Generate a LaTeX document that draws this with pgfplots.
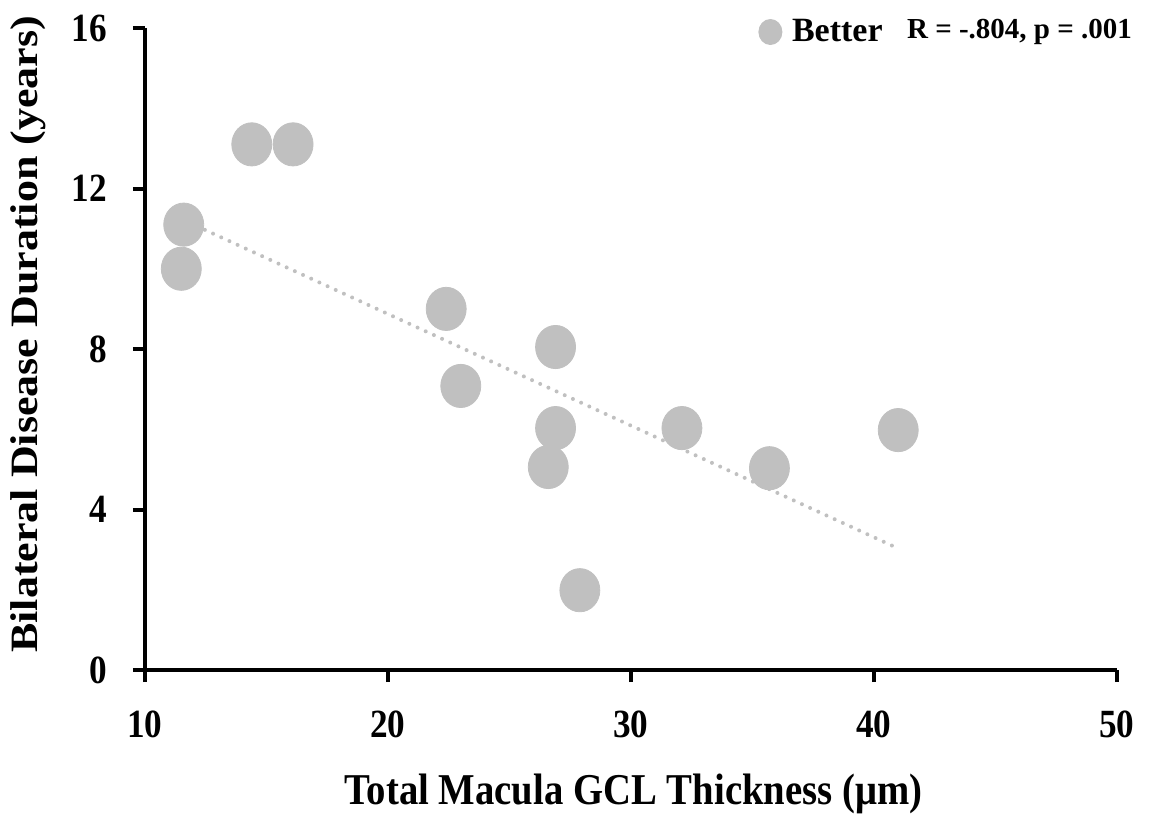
\documentclass[border=0pt]{standalone}
\usepackage{graphicx}
\usepackage{pgfplots}
\pgfplotsset{compat=1.18}
\usepackage{fontspec}
\setmainfont{Liberation Serif}
\definecolor{ptgray}{HTML}{C0C0C0}
\begin{document}
\begin{tikzpicture}
\begin{axis}[
  scale only axis,
  width=486pt, height=321pt,
  xmin=10, xmax=50, ymin=0, ymax=16,
  xtick={10,20,30,40,50}, ytick={0,4,8,12,16},
  axis lines=left,
  axis line style={line width=2pt, -},
  tick style={line width=2pt, black},
  tick align=outside,
  major tick length=6pt,
  /pgf/number format/assume math mode=true,
  ticklabel style={font=\bfseries\fontsize{20}{24}\selectfont},
  xticklabel={\scalebox{0.88}[1]{\pgfmathprintnumber{\tick}}},
  yticklabel={\scalebox{0.88}[1]{\pgfmathprintnumber{\tick}}},
  xticklabel style={yshift=-11pt},
  yticklabel style={xshift=-9.5pt},
  xlabel={\scalebox{0.88}[1]{Total Macula GCL Thickness (μm)}},
  ylabel={\scalebox{1}[0.88]{Bilateral Disease Duration (years)}},
  label style={font=\bfseries\fontsize{22}{26}\selectfont},
  xlabel style={at={(axis description cs:0.5026,-0.210)}, anchor=base},
  ylabel style={at={(axis description cs:-0.120,0.523)}, anchor=center},
  clip=false,
  legend style={draw=none, fill=none, at={(axis cs:35.23,15.9)}, anchor=west,
    font=\bfseries\fontsize{17}{20}\selectfont, inner sep=0pt,
    legend cell align=left},
  legend image code/.code={\fill[ptgray, draw=none] (6pt,0) ellipse [x radius=6pt, y radius=6.5pt]; \path[draw=none, fill=none] (0pt,0) -- (14.8pt,0);},
]
\addplot[only marks, mark=*, mark size=10pt,
  mark options={fill=ptgray, draw=ptgray, yscale=1.08}]
coordinates {
(11.6,11.1) (11.5,10.0) (14.4,13.1) (16.1,13.1) (22.4,9.0) (23.0,7.08)
(26.9,8.05) (26.9,6.03) (26.6,5.06) (27.9,1.99) (32.1,6.03) (35.7,5.03) (41.0,5.98)
};
\addlegendentry{Better}
\addplot[ptgray, line width=2pt, line cap=round, dash pattern=on 0pt off 4.5pt, forget plot]
coordinates {(12.47,10.97) (40.86,3.07)};
\node[font=\bfseries\fontsize{14.5}{17}\selectfont, anchor=center] at (axis cs:45.99,15.9) {R = -.804, p = .001};
\path (rel axis cs:-0.149,-0.232) rectangle (rel axis cs:1.034,1.0436);
\end{axis}
\end{tikzpicture}
\end{document}
